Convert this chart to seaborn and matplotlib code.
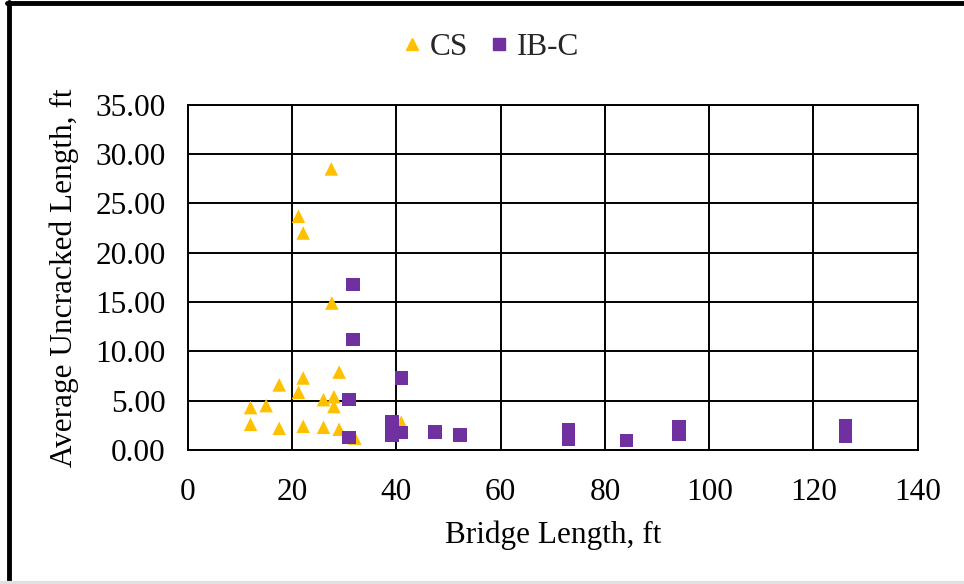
import matplotlib
matplotlib.use("Agg")
import matplotlib.pyplot as plt
import seaborn as sns
import pandas as pd
from matplotlib.lines import Line2D

# data
cs_length = [27.5, 21.2, 22.1, 27.6, 29.0, 22.1, 17.5, 21.2, 26.0, 28.0, 28.0,
             12.0, 15.0, 12.0, 17.5, 22.1, 26.0, 29.0, 32.0, 40.9]
cs_uncracked = [28.5, 23.7, 22.0, 14.9, 7.9, 7.3, 6.6, 5.85, 5.1, 5.4, 4.4,
                4.3, 4.5, 2.6, 2.2, 2.4, 2.3, 2.1, 1.2, 2.8]
ibc_length = [31.7, 31.7, 41.0, 30.9, 30.9, 39.1, 39.1, 41.0, 47.4, 52.2,
              73.0, 73.0, 73.0, 84.1, 94.2, 94.2, 126.1, 126.1]
ibc_uncracked = [16.8, 11.2, 7.3, 5.1, 1.25, 2.9, 1.5, 1.75, 1.8, 1.5,
                 2.0, 1.5, 1.1, 0.95, 2.4, 1.6, 2.5, 1.35]
x_ticks = [0, 20, 40, 60, 80, 100, 120, 140]
y_ticks = [0, 5, 10, 15, 20, 25, 30, 35]

df = pd.DataFrame({
    "length": cs_length + ibc_length,
    "uncracked": cs_uncracked + ibc_uncracked,
    "type": ["CS"] * len(cs_length) + ["IB-C"] * len(ibc_length),
})

colors = {"CS": "#FFC000", "IB-C": "#7030A0"}
markers = {"CS": "^", "IB-C": "s"}

sns.set_theme(style="white")
plt.rcParams["font.family"] = ["Liberation Serif", "DejaVu Serif"]

fig = plt.figure(figsize=(9.64, 5.84), dpi=100)
ax = fig.add_axes([0.195, 0.2295, 0.757, 0.591])

sns.scatterplot(data=df, x="length", y="uncracked", hue="type", style="type",
                palette=colors, markers=markers, s=95, linewidth=0,
                legend=False, ax=ax, zorder=3)

ax.set_xlim(0, 140)
ax.set_ylim(0, 35)
ax.set_xticks(x_ticks)
ax.set_yticks(y_ticks)
ax.set_yticklabels([f"{v:.2f}" for v in y_ticks])
ax.grid(True, color="black", linewidth=1.4)
for sp in ax.spines.values():
    sp.set_color("black")
    sp.set_linewidth(1.4)
ax.tick_params(axis="both", length=0, labelsize=22.5, colors="black")
ax.tick_params(axis="y", pad=16)
ax.tick_params(axis="x", pad=20)
ax.set_xlabel("Bridge Length, ft", fontsize=22.5, color="black", labelpad=10)
ax.set_ylabel("Average Uncracked Length, ft", fontsize=22.5, color="black", labelpad=12)

handles = [Line2D([], [], linestyle="none", marker=markers[k], color=colors[k],
                  markersize=8, label=k) for k in ["CS", "IB-C"]]
fig.legend(handles=handles, loc="center", bbox_to_anchor=(0.506, 0.918), ncol=2,
           frameon=False, fontsize=22.5, handletextpad=0.05, columnspacing=0.5,
           handlelength=1.0)

# outer frame of the original image
fig.add_artist(Line2D([0.009, 0.009], [0.005, 0.997], color="black", linewidth=3.5,
                      transform=fig.transFigure))
fig.add_artist(Line2D([0.007, 1.0], [0.995, 0.995], color="black", linewidth=3.5,
                      transform=fig.transFigure))
fig.add_artist(Line2D([0.0, 1.0], [0.002, 0.002], color="#e0e0e0", linewidth=3,
                      transform=fig.transFigure))

fig.savefig("out.png", dpi=100)
